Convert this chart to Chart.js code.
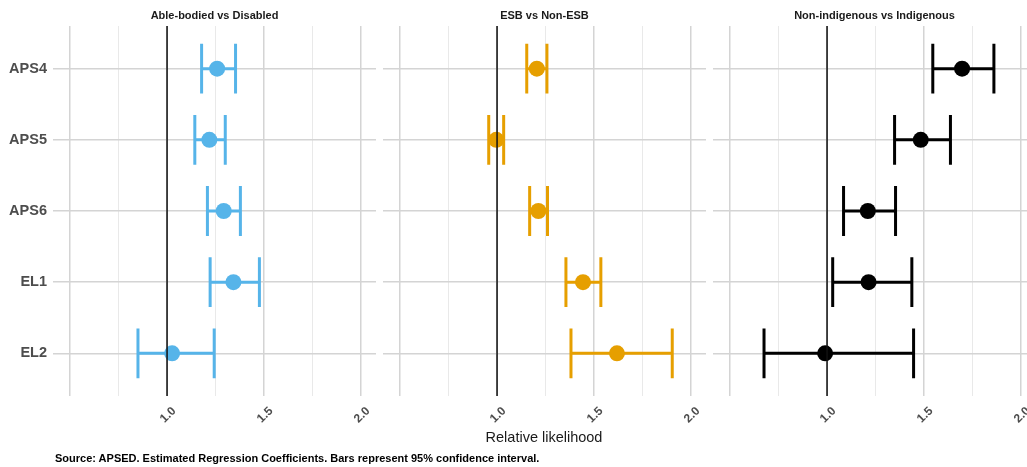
<!DOCTYPE html>
<html>
<head>
<meta charset="utf-8">
<script src="https://cdn.jsdelivr.net/npm/chart.js@4.4.1/dist/chart.umd.min.js"></script>
<style>
  html, body { margin: 0; padding: 0; background: #fff; overflow: hidden; }
  body { width: 1027px; height: 467px; position: relative; font-family: "Liberation Sans", Arial, sans-serif; }
  .panel { position: absolute; top: 0; width: 380px; height: 467px; }
  .title { position: absolute; top: 9px; font-size: 11px; font-weight: bold; color: #1a1a1a; text-align: center; width: 323px; }
  #xlabel { position: absolute; top: 429px; left: 0; width: 1088px; text-align: center; font-size: 14.5px; color: #1a1a1a; }
  #caption { position: absolute; top: 452px; left: 55px; font-size: 11px; font-weight: bold; color: #000; }
</style>
</head>
<body>
<div class="panel" style="left:0px"><canvas id="p0" width="380" height="467"></canvas></div>
<div class="panel" style="left:330px"><canvas id="p1" width="380" height="467"></canvas></div>
<div class="panel" style="left:660px"><canvas id="p2" width="380" height="467"></canvas></div>
<div class="title" style="left:53px">Able-bodied vs Disabled</div>
<div class="title" style="left:383px">ESB vs Non-ESB</div>
<div class="title" style="left:713px">Non-indigenous vs Indigenous</div>
<div id="xlabel">Relative likelihood</div>
<div id="caption">Source: APSED. Estimated Regression Coefficients. Bars represent 95% confidence interval.</div>
<script>
const categories = ['APS4', 'APS5', 'APS6', 'EL1', 'EL2'];
const xTicks = [0.5, 0.75, 1.0, 1.25, 1.5, 1.75, 2.0];
const xLabelled = [1.0, 1.5, 2.0];

const disabledEst = [1.258, 1.218, 1.292, 1.342, 1.026];
const disabledLow = [1.178, 1.143, 1.208, 1.222, 0.850];
const disabledHigh = [1.353, 1.300, 1.378, 1.476, 1.243];

const esbEst = [1.205, 0.996, 1.213, 1.443, 1.618];
const esbLow = [1.153, 0.957, 1.168, 1.355, 1.381];
const esbHigh = [1.257, 1.034, 1.260, 1.535, 1.903];

const indigEst = [1.696, 1.483, 1.210, 1.214, 0.990];
const indigLow = [1.545, 1.348, 1.085, 1.029, 0.675];
const indigHigh = [1.860, 1.636, 1.353, 1.437, 1.446];

const panels = [
    { id: 'p0', est: disabledEst, low: disabledLow, high: disabledHigh, color: '#56B4E9', showY: true },
    { id: 'p1', est: esbEst, low: esbLow, high: esbHigh, color: '#E69F00', showY: false },
    { id: 'p2', est: indigEst, low: indigLow, high: indigHigh, color: '#000000', showY: false }
];

// error bars and the reference line at 1, drawn through the chart scales
const errorBars = {
    id: 'errorBars',
    beforeDatasetsDraw(chart, args, opts) {
        const { ctx, scales: { x, y } } = chart;
        const half = Math.abs(y.getPixelForValue(1.35) - y.getPixelForValue(1));
        ctx.save();
        ctx.strokeStyle = opts.color;
        ctx.lineWidth = 3;
        ctx.lineCap = 'butt';
        opts.low.forEach((lo, i) => {
            const py = y.getPixelForValue(i + 1);
            const x0 = x.getPixelForValue(lo);
            const x1 = x.getPixelForValue(opts.high[i]);
            ctx.beginPath();
            ctx.moveTo(x0, py); ctx.lineTo(x1, py);
            ctx.moveTo(x0, py - half); ctx.lineTo(x0, py + half);
            ctx.moveTo(x1, py - half); ctx.lineTo(x1, py + half);
            ctx.stroke();
        });
        ctx.restore();
    },
    afterDatasetsDraw(chart) {
        const { ctx, chartArea, scales: { x } } = chart;
        const px = x.getPixelForValue(1);
        ctx.save();
        ctx.strokeStyle = '#111';
        ctx.lineWidth = 1.5;
        ctx.beginPath();
        ctx.moveTo(px, chartArea.top);
        ctx.lineTo(px, chartArea.bottom);
        ctx.stroke();
        ctx.restore();
    }
};

panels.forEach(p => {
    const ctx = document.getElementById(p.id).getContext('2d');
    new Chart(ctx, {
        type: 'scatter',
        data: {
            datasets: [{
                data: p.est.map((v, i) => ({ x: v, y: i + 1 })),
                backgroundColor: p.color,
                borderWidth: 0,
                pointRadius: 8,
                pointHoverRadius: 8
            }]
        },
        options: {
            responsive: false,
            animation: false,
            layout: { autoPadding: false, padding: { top: 26, right: 4, left: 0, bottom: 0 } },
            plugins: {
                legend: { display: false },
                tooltip: { enabled: false },
                errorBars: { low: p.low, high: p.high, color: p.color }
            },
            scales: {
                x: {
                    type: 'linear',
                    min: 0.412,
                    max: 2.077,
                    afterBuildTicks: s => { s.ticks = xTicks.map(v => ({ value: v })); },
                    afterFit: s => { s.height = 71; s.paddingLeft = 0; s.paddingRight = 0; },
                    border: { display: false },
                    grid: {
                        drawTicks: false,
                        color: c => (c.tick && [0.75, 1.25, 1.75].includes(c.tick.value)) ? '#e9e9e9' : '#d4d4d4',
                        lineWidth: c => (c.tick && [0.75, 1.25, 1.75].includes(c.tick.value)) ? 1 : 1.5
                    },
                    ticks: {
                        autoSkip: false,
                        minRotation: 45,
                        maxRotation: 45,
                        padding: 8,
                        labelOffset: 7,
                        color: '#4d4d4d',
                        font: { family: 'Liberation Sans', size: 12, weight: 'bold' },
                        callback: v => xLabelled.includes(v) ? v.toFixed(1) : ''
                    }
                },
                y: {
                    type: 'linear',
                    min: 0.4,
                    max: 5.6,
                    reverse: true,
                    afterBuildTicks: s => { s.ticks = categories.map((c, i) => ({ value: i + 1 })); },
                    afterFit: s => { s.width = 53; s.paddingTop = 0; s.paddingBottom = 0; },
                    border: { display: false },
                    grid: { drawTicks: false, color: '#d4d4d4', lineWidth: 1.5 },
                    ticks: {
                        display: p.showY,
                        padding: 6,
                        color: '#4d4d4d',
                        font: { family: 'Liberation Sans', size: 14.5, weight: 'bold' },
                        callback: v => categories[v - 1] || ''
                    }
                }
            }
        },
        plugins: [errorBars]
    });
});
</script>
</body>
</html>
